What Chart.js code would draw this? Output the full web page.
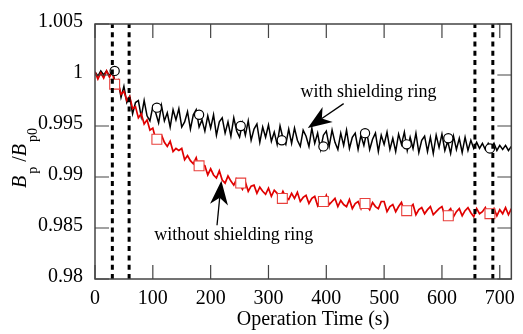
<!DOCTYPE html>
<html>
<head>
<meta charset="utf-8">
<script src="https://cdn.jsdelivr.net/npm/chart.js@4.4.1/dist/chart.umd.min.js"></script>
<style>
html,body{margin:0;padding:0;background:#fff;}
#wrap{width:523px;height:334px;position:relative;}
</style>
</head>
<body>
<div id="wrap"><canvas id="c" width="523" height="334"></canvas></div>
<script>
// ---- data ----
const times = [0,5,10,15,20,25,30,35,40,45,50,55,60,65,70,75,80,85,90,95,100,105,110,115,120,125,130,135,140,145,150,155,160,165,170,175,180,185,190,195,200,205,210,215,220,225,230,235,240,245,250,255,260,265,270,275,280,285,290,295,300,305,310,315,320,325,330,335,340,345,350,355,360,365,370,375,380,385,390,395,400,405,410,415,420,425,430,435,440,445,450,455,460,465,470,475,480,485,490,495,500,505,510,515,520,525,530,535,540,545,550,555,560,565,570,575,580,585,590,595,600,605,610,615,620,625,630,635,640,645,650,655,660,665,670,675,680,685,690,695,700,705,710,715,720];

const withRing = [
1.0003,0.9999,1.0004,1.0000,1.0004,0.9999,1.0006,0.9991,0.9995,0.9978,
0.9989,0.9973,0.9979,0.9962,0.9973,0.9975,0.9959,0.9975,0.9960,0.9955,
0.9969,0.9963,0.9953,0.9970,0.9955,0.9963,0.9949,0.9966,0.9956,0.9967,
0.9949,0.9954,0.9964,0.9947,0.9961,0.9966,0.9949,0.9956,0.9945,0.9960,
0.9948,0.9961,0.9941,0.9954,0.9958,0.9943,0.9954,0.9940,0.9958,0.9945,
0.9939,0.9953,0.9941,0.9955,0.9936,0.9947,0.9952,0.9934,0.9949,0.9939,
0.9951,0.9935,0.9944,0.9932,0.9950,0.9938,0.9932,0.9947,0.9933,0.9948,
0.9936,0.9930,0.9946,0.9940,0.9930,0.9948,0.9933,0.9943,0.9927,0.9941,
0.9945,0.9930,0.9946,0.9934,0.9927,0.9943,0.9931,0.9946,0.9928,0.9939,
0.9943,0.9927,0.9941,0.9931,0.9944,0.9927,0.9937,0.9943,0.9925,0.9941,
0.9932,0.9944,0.9927,0.9938,0.9925,0.9942,0.9932,0.9944,0.9926,0.9939,
0.9928,0.9943,0.9924,0.9936,0.9940,0.9925,0.9939,0.9923,0.9941,0.9929,
0.9942,0.9926,0.9935,0.9923,0.9940,0.9927,0.9938,0.9924,0.9939,0.9926,
0.9936,0.9928,0.9934,0.9928,0.9933,0.9927,0.9933,0.9928,0.9933,0.9926,
0.9931,0.9927,0.9931,0.9926,0.9930];

const withoutRing = [
1.0003,0.9996,1.0002,0.9997,1.0004,0.9998,1.0003,0.9989,0.9992,0.9981,
0.9984,0.9975,0.9979,0.9967,0.9969,0.9958,0.9962,0.9952,0.9956,0.9946,
0.9948,0.9937,0.9940,0.9941,0.9934,0.9930,0.9935,0.9925,0.9928,0.9926,
0.9928,0.9917,0.9921,0.9916,0.9913,0.9919,0.9908,0.9912,0.9911,0.9902,
0.9908,0.9902,0.9899,0.9906,0.9897,0.9894,0.9901,0.9896,0.9892,0.9898,
0.9893,0.9888,0.9895,0.9886,0.9891,0.9892,0.9884,0.9890,0.9886,0.9883,
0.9889,0.9881,0.9887,0.9884,0.9879,0.9886,0.9880,0.9878,0.9884,0.9879,
0.9885,0.9876,0.9880,0.9882,0.9874,0.9879,0.9881,0.9872,0.9878,0.9874,
0.9882,0.9873,0.9876,0.9879,0.9871,0.9877,0.9873,0.9871,0.9878,0.9869,
0.9874,0.9876,0.9869,0.9877,0.9872,0.9868,0.9875,0.9871,0.9869,0.9876,
0.9876,0.9866,0.9871,0.9873,0.9866,0.9871,0.9875,0.9866,0.9869,0.9870,
0.9873,0.9863,0.9868,0.9870,0.9864,0.9868,0.9871,0.9863,0.9866,0.9869,
0.9871,0.9862,0.9866,0.9869,0.9861,0.9866,0.9869,0.9862,0.9867,0.9870,
0.9865,0.9861,0.9869,0.9864,0.9866,0.9870,0.9862,0.9865,0.9869,0.9862,
0.9868,0.9864,0.9870,0.9863,0.9869];

const circleTimes = [34,107,180,252,323,395,467,539,611,683];
const circleValues = [1.0004,0.9968,0.9961,0.9950,0.9936,0.9930,0.9943,0.9932,0.9938,0.9928];
const squareTimes = [34,107,180,252,324,395,467,539,611,683];
const squareValues = [0.9991,0.9937,0.9911,0.9894,0.9879,0.9876,0.9874,0.9867,0.9862,0.9864];

const dashTimes = [30,59,657,688];

const xTickValues = [0,100,200,300,400,500,600,700];
const yTickValues = [0.98,0.985,0.99,0.995,1,1.005];
const yTickLabels = ['0.98','0.985','0.99','0.995','1','1.005'];

const X_MIN = 0, X_MAX = 720, Y_MIN = 0.98, Y_MAX = 1.005;

// annotations (data coordinates)
const labelWith = {text:'with shielding ring', x:355.5, y:0.99787};
const labelWithout = {text:'without shielding ring', x:102.5, y:0.98381};
const arrowWith = {tail:{x:430, y:0.99719}, tip:{x:368, y:0.99480}};
const arrowWithout = {tail:{x:211, y:0.98527}, tip:{x:218.5, y:0.98963}};

// ---- build ----
const SERIF = "'Liberation Serif','Times New Roman',serif";
const pts = (xs, ys) => xs.map((x,i)=>({x:x, y:ys[i]}));

const datasets = [];
dashTimes.forEach(t => datasets.push({
  data:[{x:t,y:Y_MIN},{x:t,y:Y_MAX}], borderColor:'#000', borderWidth:3,
  borderDash:[5,4.3], pointRadius:0, showLine:true, fill:false
}));
datasets.push({data:pts(squareTimes,squareValues), showLine:false, pointStyle:'rect',
  pointRadius:7, pointBorderColor:'#e8403c', pointBackgroundColor:'#fff', pointBorderWidth:1.1});
datasets.push({data:pts(circleTimes,circleValues), showLine:false, pointStyle:'circle',
  pointRadius:4.6, pointBorderColor:'#000', pointBackgroundColor:'#fff', pointBorderWidth:1.2});
datasets.push({data:pts(times,withoutRing), borderColor:'#e00000', borderWidth:1.7, pointRadius:0, showLine:true, tension:0});
datasets.push({data:pts(times,withRing), borderColor:'#000', borderWidth:1.5, pointRadius:0, showLine:true, tension:0});

const framePlugin = {
  id:'frame',
  afterDraw(chart){
    const {ctx, chartArea:a, scales:{x, y}} = chart;
    ctx.save();
    ctx.strokeStyle = '#444';
    ctx.lineWidth = 1.5;
    ctx.strokeRect(a.left, a.top, a.right-a.left, a.bottom-a.top);
    ctx.lineWidth = 1.2;
    ctx.beginPath();
    const TL = 14;
    xTickValues.forEach(v => {
      const px = x.getPixelForValue(v);
      ctx.moveTo(px, a.bottom); ctx.lineTo(px, a.bottom-TL);
      ctx.moveTo(px, a.top); ctx.lineTo(px, a.top+TL);
    });
    yTickValues.forEach(v => {
      const py = y.getPixelForValue(v);
      ctx.moveTo(a.left, py); ctx.lineTo(a.left+TL, py);
      ctx.moveTo(a.right, py); ctx.lineTo(a.right-TL, py);
    });
    ctx.stroke();

    // annotation texts
    ctx.fillStyle = '#000';
    ctx.font = '18px ' + SERIF;
    ctx.textBaseline = 'alphabetic';
    ctx.textAlign = 'left';
    [labelWith, labelWithout].forEach(l => {
      ctx.fillText(l.text, x.getPixelForValue(l.x), y.getPixelForValue(l.y));
    });

    // arrows
    [arrowWith, arrowWithout].forEach(ar => {
      const tx = x.getPixelForValue(ar.tip.x), ty = y.getPixelForValue(ar.tip.y);
      const sx = x.getPixelForValue(ar.tail.x), sy = y.getPixelForValue(ar.tail.y);
      const dx = sx-tx, dy = sy-ty, len = Math.hypot(dx,dy);
      const ux = dx/len, uy = dy/len, nx = -uy, ny = ux;
      const L = 24, W = 9, N = 17;
      ctx.beginPath();
      ctx.moveTo(tx, ty);
      ctx.lineTo(tx+ux*L+nx*W, ty+uy*L+ny*W);
      ctx.lineTo(tx+ux*N, ty+uy*N);
      ctx.lineTo(tx+ux*L-nx*W, ty+uy*L-ny*W);
      ctx.closePath();
      ctx.fill();
      ctx.beginPath();
      ctx.lineWidth = 1.3;
      ctx.strokeStyle = '#000';
      ctx.moveTo(tx+ux*N, ty+uy*N);
      ctx.lineTo(sx, sy);
      ctx.stroke();
    });

    // x title
    ctx.font = '20px ' + SERIF;
    ctx.textAlign = 'center';
    ctx.fillText('Operation Time (s)', 313, 325);

    // y title (rotated)
    ctx.translate(26, 188);
    ctx.rotate(-Math.PI/2);
    ctx.textAlign = 'left';
    let off = 0;
    const part = (txt, font, shift, extra) => {
      ctx.font = font;
      ctx.fillText(txt, off, shift);
      off += ctx.measureText(txt).width + (extra||0);
    };
    part('B', 'italic 20px ' + SERIF, 0, 2);
    part('p', '14px ' + SERIF, 11, 0);
    part(' /', '20px ' + SERIF, 0, 0);
    part('B', 'italic 20px ' + SERIF, 0, 2);
    part('p0', '14px ' + SERIF, 11, 0);
    ctx.restore();
  }
};

new Chart(document.getElementById('c'), {
  type:'scatter',
  data:{datasets},
  options:{
    responsive:false,
    animation:false,
    events:[],
    layout:{padding:{left:0, right:7, top:21, bottom:0}},
    plugins:{legend:{display:false}, tooltip:{enabled:false}},
    scales:{
      x:{
        type:'linear', min:X_MIN, max:X_MAX,
        grid:{display:false, drawTicks:false},
        border:{display:false},
        afterFit(s){ s.height = 55; },
        afterBuildTicks(s){ s.ticks = xTickValues.map(v=>({value:v})); },
        ticks:{padding:8, color:'#000', font:{family:SERIF, size:20}, maxRotation:0,
          callback:(v)=>String(v)}
      },
      y:{
        type:'linear', min:Y_MIN, max:Y_MAX,
        grid:{display:false, drawTicks:false},
        border:{display:false},
        afterFit(s){ s.width = 95; },
        afterBuildTicks(s){ s.ticks = yTickValues.map(v=>({value:v})); },
        ticks:{padding:12, color:'#000', labelOffset:-2, font:{family:SERIF, size:20},
          callback:(v,i)=>yTickLabels[i]}
      }
    }
  },
  plugins:[framePlugin]
});
</script>
</body>
</html>
